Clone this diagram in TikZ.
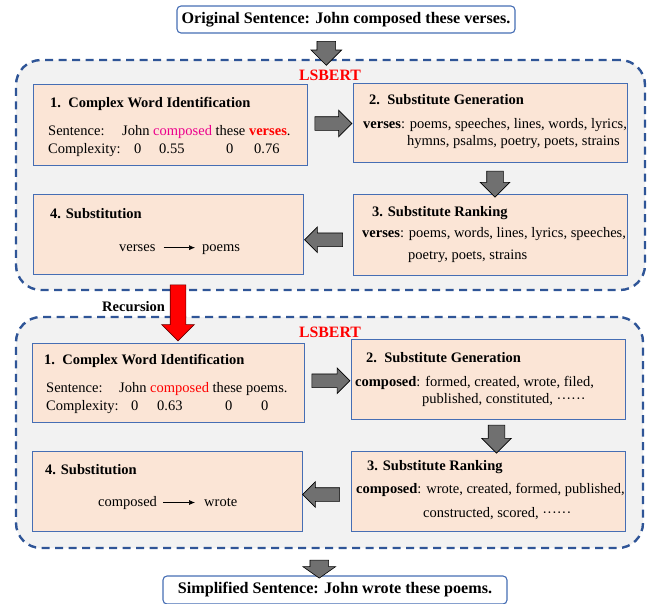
\documentclass[tikz,border=0pt]{standalone}
\usepackage{fontspec}
\setmainfont{Liberation Serif}
\usetikzlibrary{shapes.arrows,calc,arrows.meta}
\definecolor{dashblue}{RGB}{47,85,151}
\definecolor{boxblue}{RGB}{70,110,180}
\definecolor{peach}{RGB}{251,229,214}
\definecolor{panel}{RGB}{242,242,242}
\definecolor{arrowgray}{RGB}{112,112,112}
\newcommand{\bodysize}{\fontsize{14.5}{17}\selectfont}
\tikzset{
  panelbox/.style={draw=dashblue,fill=panel,line width=2.4pt,dash pattern=on 8pt off 5.5pt,rounded corners=25pt,inner sep=0pt},
  stagebox/.style={draw=boxblue,fill=peach,line width=0.9pt,inner sep=0pt},
  endbox/.style={draw=boxblue,fill=white,line width=1.1pt,rounded corners=4pt,minimum height=27pt,inner sep=0pt,font=\fontsize{16.1}{19}\selectfont\bfseries},
  txt/.style={anchor=base west,inner sep=0pt,font=\bodysize},
  ttl/.style={txt,font=\bodysize\bfseries},
  blockarrow/.style={single arrow,draw=black,line width=0.6pt,fill=arrowgray,inner xsep=0pt,minimum width=0pt},
  thinarrow/.style={-{Latex[length=6pt,width=5pt]},line width=0.6pt}
}
\begin{document}
\begin{tikzpicture}[x=1pt,y=-1pt]
  \useasboundingbox (0,0) rectangle (653,603);
  % input and output sentences
  \node[endbox,minimum width=338pt] (orig) at (346,19.5) {Original Sentence: John composed these verses.};
  \node[endbox,minimum width=344pt,minimum height=28pt] (simp) at (335,590) {Simplified Sentence: John wrote these poems.};

  % first pass
  \node[panelbox,minimum width=629pt,minimum height=230pt] (lsbA) at (330.5,175) {};
  \node[anchor=base,red,font=\fontsize{15.8}{19}\selectfont\bfseries] (nameA) at (330,80) {LSBERT};
  \node[stagebox,minimum width=274pt,minimum height=81pt] (cwiA) at (170,124.5) {};
  \node[stagebox,minimum width=274pt,minimum height=79pt] (sgA) at (490,122.5) {};
  \node[stagebox,minimum width=274pt,minimum height=81pt] (srA) at (490,234.5) {};
  \node[stagebox,minimum width=270pt,minimum height=80pt] (subA) at (168,234) {};

  \node[ttl] (cwiAt) at (50,107) {1.\ \ Complex Word Identification};
  \node[txt] (senA) at (48,135) {Sentence:};
  \node[txt] (senAw) at (122,135) {John \textcolor{magenta}{composed} these \textcolor{red}{\textbf{verses}}.};
  \node[txt] (cplA) at (48,153) {Complexity:};
  \foreach \x/\v [count=\i] in {134/0,159/0.55,226/0,254/0.76}
    \node[txt] (cxA\i) at (\x,153) {\v};

  \node[ttl] (sgAt) at (369,104) {2.\ \ Substitute Generation};
  \node[txt] (sgA1) at (363,128) {\textbf{verses}: poems, speeches, lines, words, lyrics,};
  \node[txt] (sgA2) at (407,145) {hymns, psalms, poetry, poets, strains};

  \node[ttl] (srAt) at (372,216) {3. Substitute Ranking};
  \node[txt] (srA1) at (362,237) {\textbf{verses}: poems, words, lines, lyrics, speeches,};
  \node[txt] (srA2) at (408,259) {poetry, poets, strains};

  \node[ttl] (subAt) at (50,218) {4. Substitution};
  \node[txt] (oldA) at (119,251) {verses};
  \node[txt] (newA) at (202,251) {poems};
  \draw[thinarrow] ([xshift=8pt]oldA.east) -- ([xshift=-7pt]oldA.east -| newA.west);

  % second pass
  \node[panelbox,minimum width=627pt,minimum height=231pt] (lsbB) at (329.5,432.5) {};
  \node[anchor=base,red,font=\fontsize{15.8}{19}\selectfont\bfseries] (nameB) at (330,337) {LSBERT};
  \node[stagebox,minimum width=272pt,minimum height=79pt] (cwiB) at (168,382.5) {};
  \node[stagebox,minimum width=274pt,minimum height=80pt] (sgB) at (488,379) {};
  \node[stagebox,minimum width=274pt,minimum height=80pt] (srB) at (488,491) {};
  \node[stagebox,minimum width=270pt,minimum height=80pt] (subB) at (167,491) {};

  \node[ttl] (cwiBt) at (44,364) {1.\ \ Complex Word Identification};
  \node[txt] (senB) at (46,392) {Sentence:};
  \node[txt] (senBw) at (119,392) {John \textcolor{red}{composed} these poems.};
  \node[txt] (cplB) at (46,410) {Complexity:};
  \foreach \x/\v [count=\i] in {131/0,157/0.63,225/0,261/0}
    \node[txt] (cxB\i) at (\x,410) {\v};

  \node[ttl] (sgBt) at (366,362) {2.\ \ Substitute Generation};
  \node[txt] (sgB1) at (355,386) {\textbf{composed}: formed, created, wrote, filed,};
  \node[txt] (sgB2) at (422,403) {published, constituted, ······};

  \node[ttl] (srBt) at (367,470) {3. Substitute Ranking};
  \node[txt] (srB1) at (356,493) {\textbf{composed}: wrote, created, formed, published,};
  \node[txt] (srB2) at (423,517) {constructed, scored, ······};

  \node[ttl] (subBt) at (45,474) {4. Substitution};
  \node[txt] (oldB) at (98,506) {composed};
  \node[txt] (newB) at (204,506) {wrote};
  \draw[thinarrow] ([xshift=6pt]oldB.east) -- ([xshift=-9pt]oldB.east -| newB.west);

  % block arrows
  \node[blockarrow,rotate=-90,minimum height=24pt,inner ysep=9pt,single arrow head extend=6pt] (dwn0) at ($(orig.south)!0.5!(lsbA.north)+(-12,2.5)$) {};
  \node[blockarrow,minimum height=37pt,inner ysep=6.5pt,single arrow head extend=6.5pt] (a12) at ($(cwiA.east)!0.5!(sgA.west)$) {};
  \node[blockarrow,rotate=-90,minimum height=26pt,inner ysep=8pt,single arrow head extend=6.5pt] (a23) at ($(sgA.south)!0.5!(srA.north)+(5,2)$) {};
  \node[blockarrow,rotate=180,minimum height=38pt,inner ysep=6.5pt,single arrow head extend=6pt] (a34) at ($(subA.east)!0.5!(srA.west)+(-1,5.5)$) {};
  \node[blockarrow,minimum height=38pt,inner ysep=6.5pt,single arrow head extend=6pt] (b12) at ($(cwiB.east)!0.5!(sgB.west)$) {};
  \node[blockarrow,rotate=-90,minimum height=28pt,inner ysep=8pt,single arrow head extend=6.5pt] (b23) at ($(sgB.south)!0.5!(srB.north)+(8.5,0)$) {};
  \node[blockarrow,rotate=180,minimum height=37pt,inner ysep=6.5pt,single arrow head extend=6pt] (b34) at ($(subB.east)!0.5!(srB.west)+(-2,3.5)$) {};
  \node[blockarrow,rotate=-90,minimum height=18pt,inner ysep=9pt,single arrow head extend=7pt,single arrow tip angle=110] (dwn5) at ($(lsbB.south)!0.5!(simp.north)+(-13,3.5)$) {};

  % recursion
  \node[blockarrow,fill=red,draw=red!40!black,rotate=-90,minimum height=56pt,inner ysep=7.5pt,single arrow head extend=8.5pt] (rec) at ($(subA.south)!0.5!(cwiB.north)+(10,0.5)$) {};
  \node[ttl] (recl) at (102,311) {Recursion};
\end{tikzpicture}
\end{document}
